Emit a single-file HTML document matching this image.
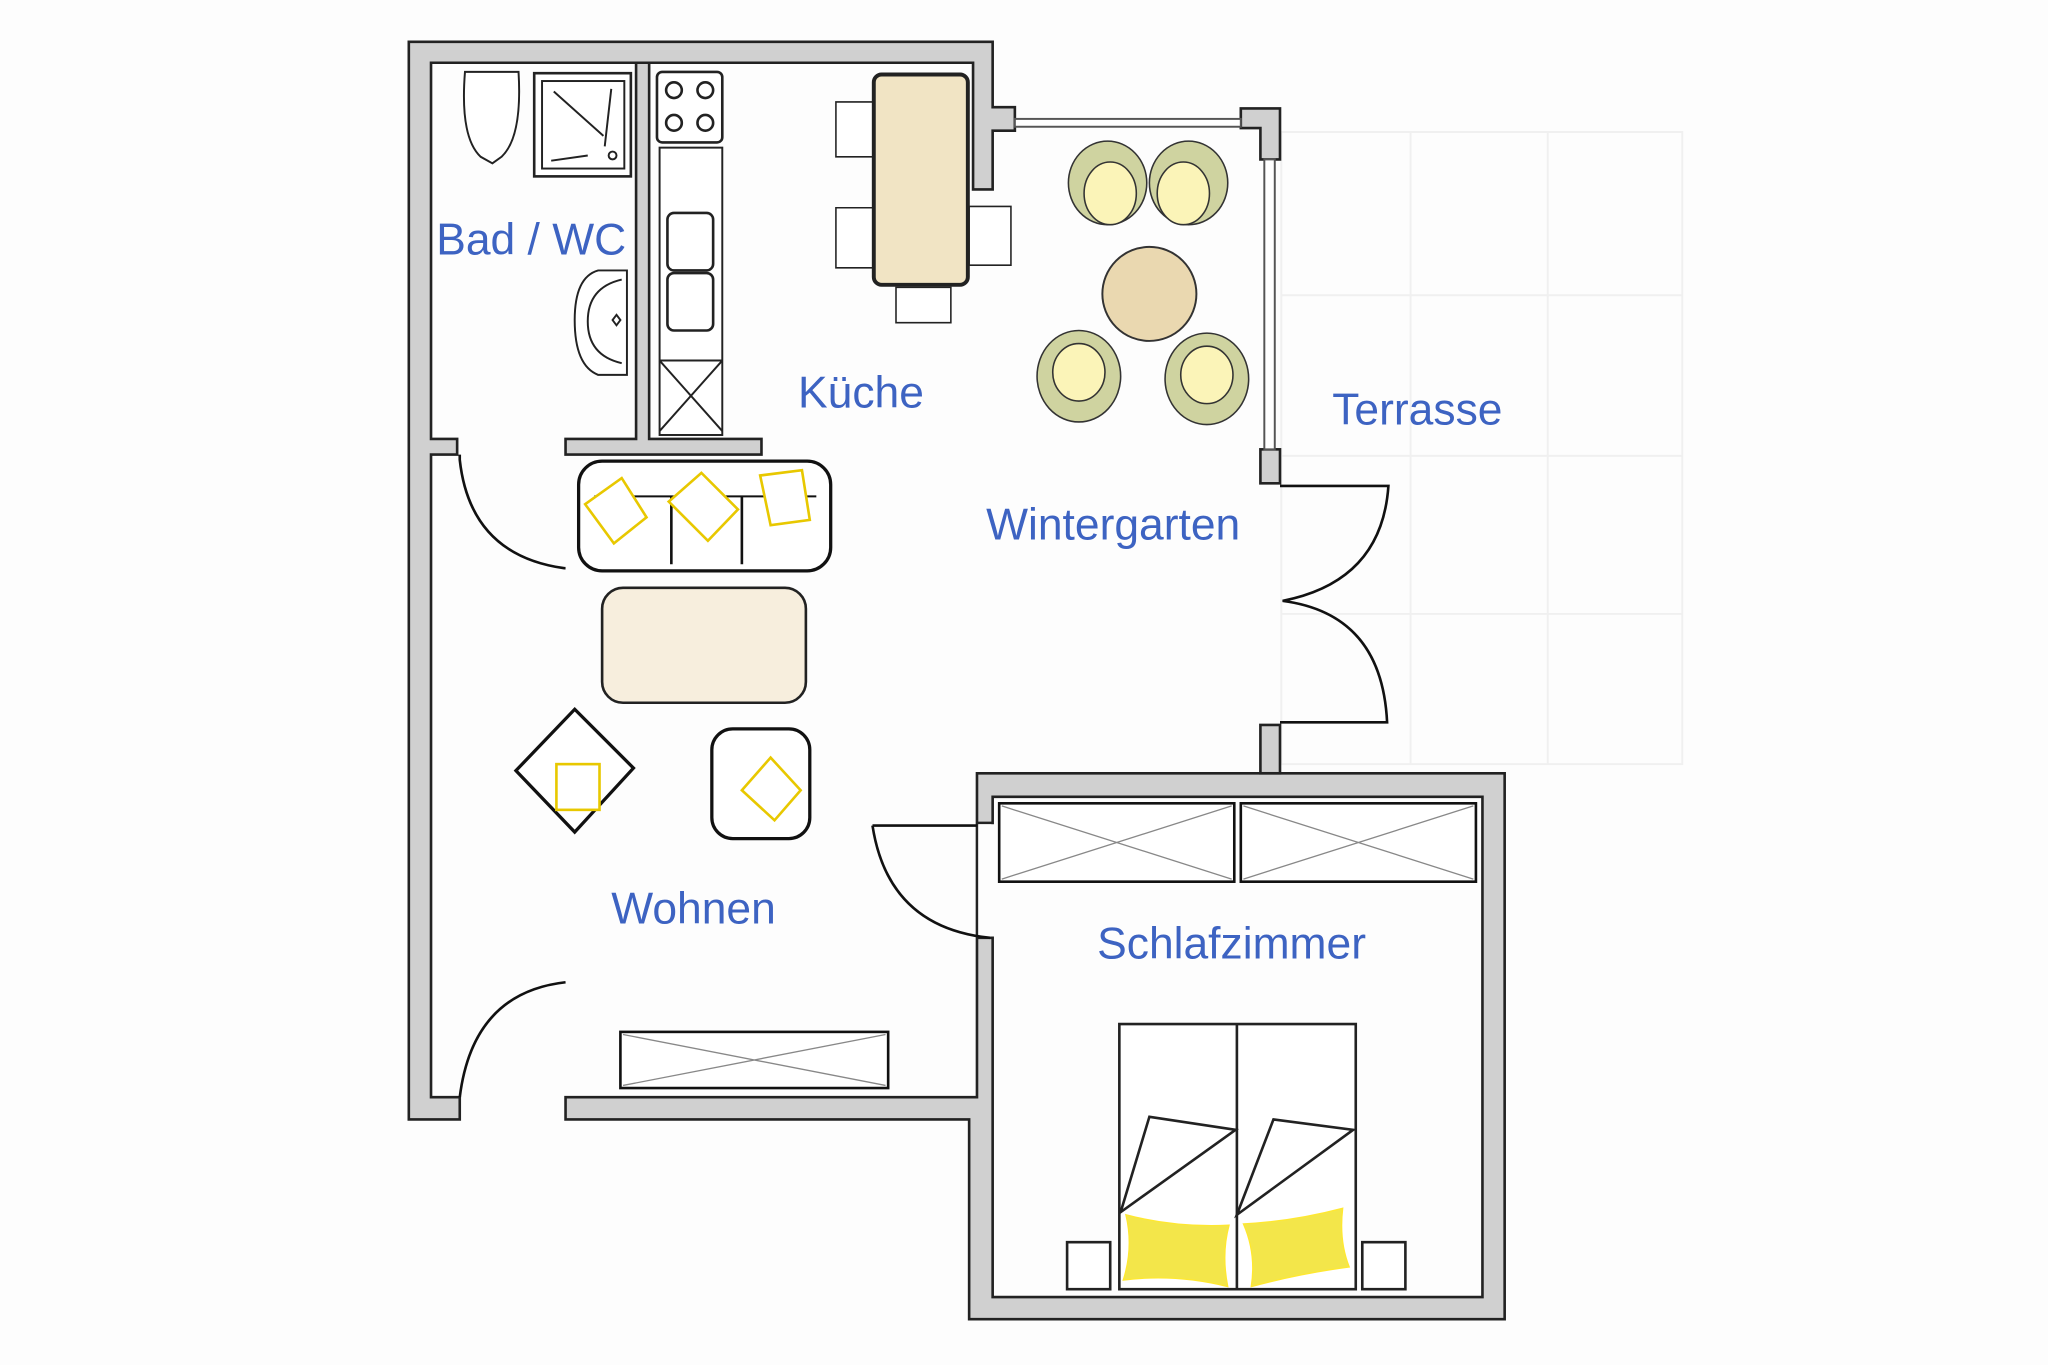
<!DOCTYPE html>
<html><head><meta charset="utf-8"><style>
html,body{margin:0;padding:0;background:#fdfdfd;}
svg{display:block}
text{font-family:"Liberation Sans",sans-serif;fill:#3d63c2;font-size:34px}
</style></head><body>
<svg width="2048" height="1365" viewBox="0 0 1568 1045" xmlns="http://www.w3.org/2000/svg">
<rect width="1568" height="1045" fill="#fdfdfd"/>
<!-- terrace grid -->
<g stroke="#f0f0f0" stroke-width="1.5" fill="none">
<rect x="981" y="101" width="307" height="484"/>
<line x1="981" y1="226" x2="1288" y2="226"/><line x1="981" y1="349" x2="1288" y2="349"/><line x1="981" y1="470" x2="1288" y2="470"/>
<line x1="1080" y1="101" x2="1080" y2="585"/><line x1="1185" y1="101" x2="1185" y2="585"/>
</g>
<!-- walls -->
<g fill="#d0d0d0" stroke="#222" stroke-width="2">
<path d="M313 32 H760 V82 H777 V100 H760 V145 H745 V48 H330 V336 H350 V348 H330 V840 H352 V857 H313 Z"/>
<path d="M433 840 H748 V592 H1152 V1010 H742 V857 H433 Z M760 610 V630 H748 V718 H760 V993 H1135 V610 Z" fill-rule="evenodd"/>
<path d="M487 48 H497 V336 H583 V348 H433 V336 H487 Z"/>
<path d="M950 83 H980 V122 H965 V98 H950 Z"/>
<rect x="965" y="344" width="15" height="26"/>
<rect x="965" y="555" width="15" height="37"/>
</g>
<rect x="749" y="631" width="10" height="86" fill="#fdfdfd"/>
<!-- windows -->
<g fill="#fff" stroke="#555" stroke-width="1.5">
<rect x="777" y="91" width="173" height="6"/>
<rect x="968" y="122" width="8" height="222"/>
</g>
<!-- doors -->
<g fill="none" stroke="#111" stroke-width="2">
<path d="M352 348 V352 Q360 425 432 435 H433"/>
<path d="M433 752 Q362 760 352 840"/>
<path d="M668 632 H748 M668 632 Q680 710 758 718"/>
<path d="M980 372 H1063 Q1058 445 982 460 Q1058 470 1062 553 H980"/>
</g>
<!-- bathroom fixtures -->
<g fill="#fff" stroke="#222" stroke-width="1.5">
<path d="M356 55 H397 Q400 105 384 120 L377 125 L368 120 Q352 105 356 55 Z"/>
<rect x="409" y="56" width="74" height="79" stroke-width="2"/>
<rect x="415" y="62" width="63" height="67"/>
<path d="M424 70 L462 104 M468 68 L463 112 M422 123 L450 119"/>
<circle cx="469" cy="119" r="3"/>
<path d="M480 207 H458 Q440 212 440 245 Q440 280 458 287 H480 Z"/>
<path d="M476 214 Q450 220 450 246 Q450 272 476 278"/>
<path d="M472 241 L475 245 L472 249 L469 245 Z"/>
</g>
<!-- kitchen -->
<g fill="#fff" stroke="#222" stroke-width="2">
<rect x="503" y="55" width="50" height="54" rx="4"/>
<circle cx="516" cy="69" r="6"/><circle cx="540" cy="69" r="6"/><circle cx="516" cy="94" r="6"/><circle cx="540" cy="94" r="6"/>
<rect x="505" y="113" width="48" height="220" stroke-width="1.5"/>
<rect x="511" y="163" width="35" height="44" rx="5"/><rect x="511" y="209" width="35" height="44" rx="5"/>
<path d="M505 276 H553 M505 276 L553 330 M553 276 L505 330" stroke-width="1.5"/>
<path d="M640 78 H670 V120 H640 Z M640 159 H670 V205 H640 Z M742 158 H774 V203 H742 Z M686 220 H728 V247 H686 Z" stroke-width="1.2"/>
<rect x="669" y="57" width="72" height="161" rx="6" fill="#f1e4c4" stroke-width="3"/>
</g>
<!-- wintergarten table & chairs -->
<circle cx="880" cy="225" r="36" fill="#ead8b0" stroke="#333" stroke-width="1.5"/>
<g stroke="#333" stroke-width="1.2">
<ellipse cx="848" cy="140" rx="30" ry="32" fill="#cfd3a0"/>
<ellipse cx="910" cy="140" rx="30" ry="32" fill="#cfd3a0"/>
<ellipse cx="826" cy="288" rx="32" ry="35" fill="#cfd3a0"/>
<ellipse cx="924" cy="290" rx="32" ry="35" fill="#cfd3a0"/>
<ellipse cx="850" cy="148" rx="20" ry="24" fill="#fbf4b8"/>
<ellipse cx="906" cy="148" rx="20" ry="24" fill="#fbf4b8"/>
<ellipse cx="826" cy="285" rx="20" ry="22" fill="#fbf4b8"/>
<ellipse cx="924" cy="287" rx="20" ry="22" fill="#fbf4b8"/>
</g>
<!-- sofa -->
<g stroke="#111" stroke-width="2.5" fill="#fff">
<rect x="443" y="353" width="193" height="84" rx="18"/>
<path d="M514 380 V432 M568 380 V432" stroke-width="2"/>
<path d="M455 380 H625" stroke-width="1.5"/>
</g>
<g fill="#fff" stroke="#e8c800" stroke-width="2">
<path d="M448 386 L476 366 L495 396 L470 416 Z"/>
<path d="M512 384 L537 362 L565 390 L542 414 Z"/>
<path d="M582 364 L614 360 L620 398 L590 402 Z"/>
</g>
<rect x="461" y="450" width="156" height="88" rx="16" fill="#f7eedd" stroke="#222" stroke-width="2"/>
<!-- armchairs -->
<g fill="#fff" stroke="#111" stroke-width="2.5">
<path d="M440 543 L485 588 L440 637 L395 590 Z"/>
<rect x="545" y="558" width="75" height="84" rx="16"/>
</g>
<g fill="#fff" stroke="#e8c800" stroke-width="2">
<rect x="426" y="585" width="33" height="35"/>
<path d="M568 605 L590 580 L613 605 L593 628 Z"/>
</g>
<!-- wardrobes & TV -->
<g fill="#fff" stroke="#111" stroke-width="2">
<rect x="765" y="615" width="180" height="60"/><rect x="950" y="615" width="180" height="60"/>
<rect x="475" y="790" width="205" height="43"/>
</g>
<g stroke="#888" stroke-width="1">
<path d="M767 617 L943 673 M943 617 L767 673 M952 617 L1128 673 M1128 617 L952 673 M477 792 L678 831 M678 792 L477 831"/>
</g>
<!-- bed -->
<g fill="#fff" stroke="#222" stroke-width="2">
<rect x="857" y="784" width="181" height="203"/>
<line x1="947" y1="784" x2="947" y2="987"/>
<rect x="817" y="951" width="33" height="36"/><rect x="1043" y="951" width="33" height="36"/>
<path d="M880 855 L946 865 L858 928 Z M975 857 L1036 865 L947 930 Z"/>
</g>
<g fill="#f3e64a" stroke="#ffe830" stroke-width="1">
<path d="M862 930 Q900 940 941 938 Q935 960 940 985 Q900 975 860 980 Q868 955 862 930 Z"/>
<path d="M952 937 Q990 935 1028 925 Q1025 950 1033 970 Q995 975 958 985 Q962 960 952 937 Z"/>
</g>
<!-- labels -->
<text x="334" y="195">Bad / WC</text>
<text x="611" y="312">Küche</text>
<text x="1020" y="325">Terrasse</text>
<text x="755" y="413">Wintergarten</text>
<text x="468" y="707">Wohnen</text>
<text x="840" y="734">Schlafzimmer</text>
</svg>
</body></html>
